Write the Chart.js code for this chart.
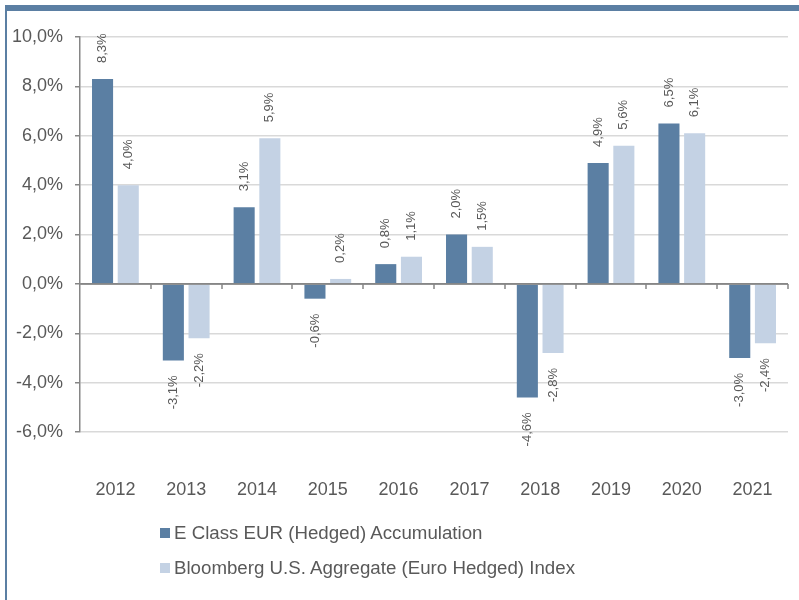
<!DOCTYPE html>
<html lang="de">
<head>
  <meta charset="UTF-8" />
  <title>Kalenderjahresrenditen</title>
  <script src="https://cdn.jsdelivr.net/npm/chart.js"></script>
  <style>
    body {
      margin: 0;
      padding: 0;
      background: #fff;
      font-family: "Liberation Sans", Arial, sans-serif;
    }
    .wrap {
      position: relative;
      width: 799px;
      height: 600px;
      overflow: hidden;
    }
    .frame {
      position: absolute;
      left: 5px;
      top: 5px;
      right: 0;
      bottom: -10px;
      border-top: 6px solid #5b7fa3;
      border-left: 2px solid #5b7fa3;
    }
    canvas {
      position: absolute;
      left: 0;
      top: 0;
    }
    .legend {
      position: absolute;
      left: 160px;
      top: 520px;
      color: #595959;
      font-size: 18.7px;
    }
    .legend div {
      height: 35px;
      line-height: 26px;
      white-space: nowrap;
    }
    .legend span {
      display: inline-block;
      width: 10px;
      height: 10px;
      margin-right: 4px;
      vertical-align: 1px;
    }
  </style>
</head>
<body>
  <div class="wrap">
    <div class="frame"></div>
    <canvas id="chart" width="799" height="600"></canvas>
    <div class="legend" id="legend"></div>
  </div>

  <script>
    const years = ['2012', '2013', '2014', '2015', '2016', '2017', '2018', '2019', '2020', '2021'];
    const fundValues = [8.3, -3.1, 3.1, -0.6, 0.8, 2.0, -4.6, 4.9, 6.5, -3.0];
    const indexValues = [4.0, -2.2, 5.9, 0.2, 1.1, 1.5, -2.8, 5.6, 6.1, -2.4];
    const seriesNames = ['E Class EUR (Hedged) Accumulation', 'Bloomberg U.S. Aggregate (Euro Hedged) Index'];
    const seriesColors = ['#5b7fa3', '#c4d2e4'];

    const textColor = '#595959';
    const axisColor = '#868686';
    const fontFamily = '"Liberation Sans", Arial, sans-serif';

    const fmt = v => v.toFixed(1).replace('.', ',') + '%';

    // rotated value labels + zero line with tick marks
    const barLabels = {
      id: 'barLabels',
      afterDatasetsDraw(chart) {
        const ctx = chart.ctx;
        const x = chart.scales.x;
        const y = chart.scales.y;
        const y0 = y.getPixelForValue(0);

        ctx.save();
        ctx.strokeStyle = axisColor;
        ctx.lineWidth = 1.5;
        ctx.beginPath();
        ctx.moveTo(x.left, y0);
        ctx.lineTo(x.right, y0);
        for (let i = 1; i <= years.length; i++) {
          const px = Math.round(x.getPixelForValue(i - 0.5));
          ctx.moveTo(px, y0);
          ctx.lineTo(px, y0 + 5);
        }
        ctx.stroke();

        ctx.fillStyle = textColor;
        ctx.font = '13px ' + fontFamily;
        ctx.textBaseline = 'middle';
        chart.data.datasets.forEach((ds, di) => {
          chart.getDatasetMeta(di).data.forEach((bar, i) => {
            const v = ds.data[i];
            ctx.save();
            if (v >= 0) {
              ctx.translate(bar.x, bar.y - 16);
              ctx.textAlign = 'left';
            } else {
              ctx.translate(bar.x, bar.y + 15);
              ctx.textAlign = 'right';
            }
            ctx.rotate(-Math.PI / 2);
            ctx.fillText(fmt(v), 0, 0);
            ctx.restore();
          });
        });
        ctx.restore();
      }
    };

    const chart = new Chart(document.getElementById('chart'), {
      type: 'bar',
      data: {
        labels: years,
        datasets: [
          { label: seriesNames[0], data: fundValues, backgroundColor: seriesColors[0] },
          { label: seriesNames[1], data: indexValues, backgroundColor: seriesColors[1] }
        ]
      },
      options: {
        responsive: false,
        animation: false,
        categoryPercentage: 0.726,
        barPercentage: 0.82,
        layout: { padding: { left: 10, top: 37, right: 11, bottom: 0 } },
        plugins: {
          legend: { display: false },
          tooltip: { enabled: false }
        },
        scales: {
          x: {
            grid: { display: false, drawTicks: false },
            border: { display: false },
            ticks: {
              color: textColor,
              font: { family: fontFamily, size: 18 },
              padding: 47,
              maxRotation: 0
            },
            afterFit: s => {
              s.height = 168;
              s.paddingLeft = 0;
              s.paddingRight = 0;
            }
          },
          y: {
            min: -6,
            max: 10,
            ticks: {
              stepSize: 2,
              color: textColor,
              font: { family: fontFamily, size: 18 },
              padding: 12,
              callback: v => fmt(v)
            },
            grid: {
              color: c => c.tick && c.tick.value === 0 ? axisColor : '#d9d9d9',
              lineWidth: 1.5,
              tickLength: 5,
              tickColor: axisColor
            },
            border: { color: axisColor, width: 1.5 },
            afterFit: s => { s.width = 70; }
          }
        }
      },
      plugins: [barLabels]
    });

    document.getElementById('legend').innerHTML = seriesNames
      .map((n, i) => `<div><span style="background:${seriesColors[i]}"></span>${n}</div>`)
      .join('');
  </script>
</body>
</html>
